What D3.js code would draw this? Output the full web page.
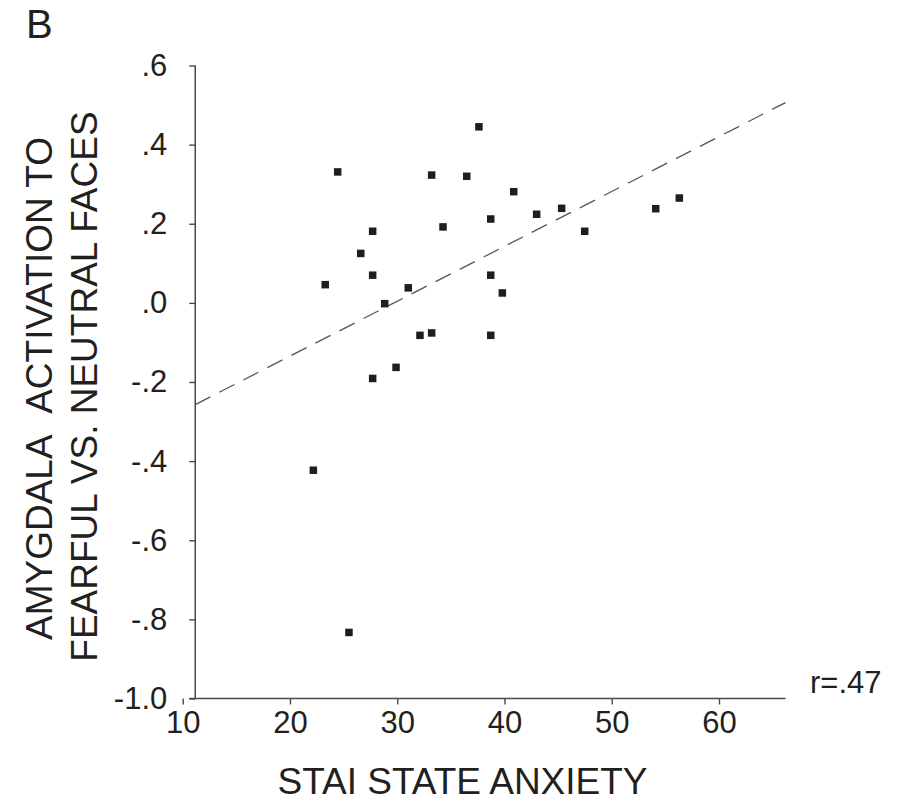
<!DOCTYPE html>
<html>
<head>
<meta charset="utf-8">
<script src="https://cdn.jsdelivr.net/npm/d3@7/dist/d3.min.js"></script>
<style>
  html, body { margin: 0; padding: 0; background: #fff; }
  svg { display: block; }
  text { font-family: "Liberation Sans", Arial, Helvetica, sans-serif; fill: #231f20; }
</style>
</head>
<body>
<svg id="chart" width="909" height="803"></svg>
<script>
// ---- data ----
const anxiety = [24.45, 37.62, 33.21, 36.48, 40.86, 43.00, 38.72, 34.27, 27.71, 26.60,
                 27.71, 23.29, 31.03, 38.72, 39.80, 28.83, 32.12, 33.21, 38.72, 27.71,
                 29.89, 22.18, 25.50, 45.33, 47.48, 54.10, 56.30];
const activation = [0.331, 0.445, 0.323, 0.320, 0.281, 0.224, 0.212, 0.192, 0.181, 0.125,
                    0.070, 0.046, 0.038, 0.070, 0.025, -0.002, -0.082, -0.076, -0.082, -0.191,
                    -0.163, -0.423, -0.833, 0.239, 0.181, 0.238, 0.265];
const xTicks = [10, 20, 30, 40, 50, 60];
const xTickLabels = ["10", "20", "30", "40", "50", "60"];
const yTicks = [0.6, 0.4, 0.2, 0.0, -0.2, -0.4, -0.6, -0.8, -1.0];
const yTickLabels = [".6", ".4", ".2", ".0", "-.2", "-.4", "-.6", "-.8", "-1.0"];
const xExtent = [11.17, 66.2];      // where the axis lines run
const fitSlope = 0.01387;
const fitIntercept = -0.412;
const panelLabel = "B";
const rLabel = "r=.47";
const xTitle = "STAI STATE ANXIETY";
const yTitleLines = ["AMYGDALA\u00A0\u00A0ACTIVATION TO", "FEARFUL VS. NEUTRAL FACES"];

// ---- scales ----
const x = d3.scaleLinear().domain([10, 60]).range([182.7, 719]);
const y = d3.scaleLinear().domain([-1, 0.6]).range([698.5, 65.5]);

const svg = d3.select("#chart");
const axisColor = "#4a4a4a";

// y axis
const yAxisX = x(xExtent[0]);
const yAxis = d3.axisLeft(y)
  .tickValues(yTicks)
  .tickFormat((d, i) => yTickLabels[i])
  .tickSize(6).tickSizeOuter(0).tickPadding(22);
const gy = svg.append("g").attr("transform", `translate(${yAxisX},0)`).call(yAxis);
gy.select(".domain").remove();
gy.append("line").attr("x1", 0).attr("x2", 0)
  .attr("y1", y(0.6)).attr("y2", y(-1)).attr("stroke", axisColor).attr("stroke-width", 1.5);
gy.selectAll(".tick line").attr("stroke", axisColor).attr("stroke-width", 1.4);
gy.selectAll(".tick text").attr("font-size", 31).attr("fill", "#231f20")
  .style("font-family", '"Liberation Sans", Arial, sans-serif');

// x axis
const xAxis = d3.axisBottom(x)
  .tickValues(xTicks)
  .tickFormat((d, i) => xTickLabels[i])
  .tickSize(6).tickSizeOuter(0).tickPadding(6);
const gx = svg.append("g").attr("transform", `translate(0,${y(-1)})`).call(xAxis);
gx.select(".domain").remove();
gx.append("line").attr("x1", yAxisX - 6).attr("x2", x(xExtent[1]))
  .attr("y1", 0).attr("y2", 0).attr("stroke", axisColor).attr("stroke-width", 1.5);
gx.selectAll(".tick line").attr("stroke", axisColor).attr("stroke-width", 1.4);
gx.selectAll(".tick text").attr("font-size", 31).attr("fill", "#231f20")
  .style("font-family", '"Liberation Sans", Arial, sans-serif');

// regression line
svg.append("line")
  .attr("x1", x(xExtent[0])).attr("y1", y(fitIntercept + fitSlope * xExtent[0]))
  .attr("x2", x(xExtent[1])).attr("y2", y(fitIntercept + fitSlope * xExtent[1]))
  .attr("stroke", "#555").attr("stroke-width", 1.3)
  .attr("stroke-dasharray", "17,10");

// points
const pts = anxiety.map((a, i) => ({ a, v: activation[i] }));
const sz = 7.5;
svg.append("g").selectAll("rect").data(pts).join("rect")
  .attr("x", d => x(d.a) - sz / 2)
  .attr("y", d => y(d.v) - sz / 2)
  .attr("width", sz).attr("height", sz)
  .attr("fill", "#1e1e1e");

// texts
svg.append("text").attr("x", 26).attr("y", 38).attr("font-size", 40).text(panelLabel);
svg.append("text").attr("x", 810).attr("y", 693).attr("font-size", 31).text(rLabel);
svg.append("text").attr("x", 462.5).attr("y", 794).attr("font-size", 37)
  .attr("text-anchor", "middle").text(xTitle);
svg.append("text").attr("transform", "translate(51.5,640) rotate(-90)")
  .attr("font-size", 37).text(yTitleLines[0]);
svg.append("text").attr("transform", "translate(96.5,661.7) rotate(-90)")
  .attr("font-size", 37).text(yTitleLines[1]);
</script>
</body>
</html>
